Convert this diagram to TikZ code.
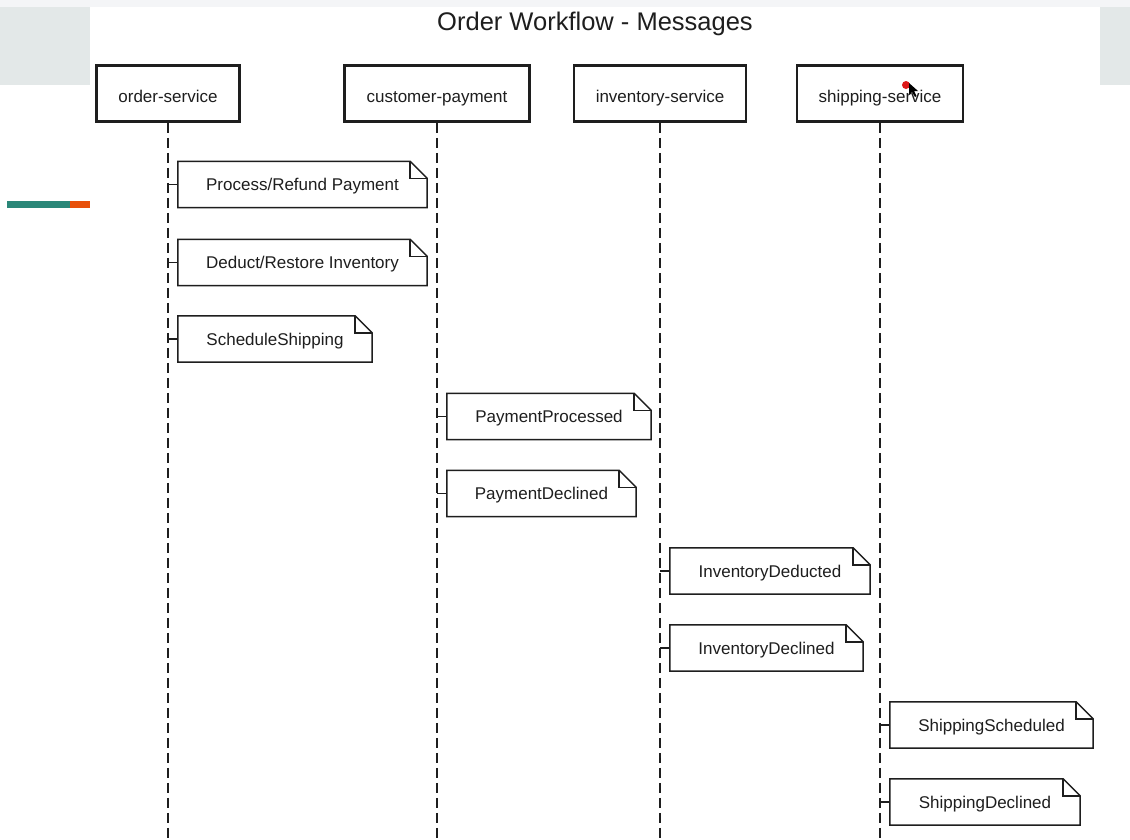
\documentclass[tikz,border=0pt]{standalone}
\usepackage{fontspec}
\setmainfont{Liberation Sans}
\definecolor{topstrip}{RGB}{244,245,247}
\definecolor{sidegray}{RGB}{227,232,232}
\definecolor{barteal}{RGB}{42,135,120}
\definecolor{barorange}{RGB}{232,80,10}
\definecolor{ink}{RGB}{30,30,30}
\begin{document}
\begin{tikzpicture}[x=1pt,y=-1pt,
  part/.style={draw=ink, line width=2.6pt, fill=white, minimum height=56pt, inner sep=0pt, font=\fontsize{17}{19}\selectfont, text=ink, text height=17pt, text depth=0pt},
  notebox/.style={minimum height=46pt, inner sep=0pt, font=\fontsize{17}{19}\selectfont, text=ink, text height=12pt, text depth=0pt},
  noteline/.style={draw=ink, line width=1.5pt, line join=miter},
  life/.style={draw=ink, line width=1.6pt, dash pattern=on 10pt off 5pt},
  tick/.style={draw=ink, line width=1.5pt}]
\useasboundingbox (0,0) rectangle (1130,839);
\fill[white] (0,0) rectangle (1130,839);
\fill[topstrip] (0,0) rectangle (1130,7);
\fill[sidegray] (0,7) rectangle (90,85);
\fill[sidegray] (1100,7) rectangle (1130,85);
\fill[barteal] (7,201) rectangle (70,208);
\fill[barorange] (70,201) rectangle (90,208);

\node[font=\fontsize{25.5}{28}\selectfont, text=ink] (title) at (595,24) {Order Workflow - Messages};

\node[part, minimum width=143pt] (p1) at (168,93.5) {order-service};
\node[part, minimum width=185pt] (p2) at (437,93.5) {customer-payment};
\node[part, minimum width=172pt] (p3) at (660,93.5) {inventory-service};
\node[part, minimum width=166pt] (p4) at (880,93.5) {shipping-service};

\coordinate (e1) at (168,839);
\coordinate (e2) at (437,839);
\coordinate (e3) at (660,839);
\coordinate (e4) at (880,839);
\draw[life] (p1.south) -- (e1);
\draw[life] (p2.south) -- (e2);
\draw[life] (p3.south) -- (e3);
\draw[life] (p4.south) -- (e4);

\foreach \n/\cx/\cy/\w/\t/\p in {
  n1/302.5/184.5/249/{Process/Refund Payment}/p1,
  n2/302.5/262.5/249/{Deduct/Restore Inventory}/p1,
  n3/275/339/194/{ScheduleShipping}/p1,
  n4/549/416.5/204/{PaymentProcessed}/p2,
  n5/541.5/493.5/189/{PaymentDeclined}/p2,
  n6/770/571/200/{InventoryDeducted}/p3,
  n7/766.5/648/193/{InventoryDeclined}/p3,
  n8/991.5/725/203/{ShippingScheduled}/p4,
  n9/985/802/190/{ShippingDeclined}/p4}{
  \node[notebox, minimum width=\w pt] (\n) at (\cx,\cy) {\t};
  \draw[noteline] (\n.north west) -- ([xshift=-17pt]\n.north east) -- ([yshift=-17pt]\n.north east) -- (\n.south east) -- (\n.south west) -- cycle;
  \draw[noteline] ([xshift=-17pt]\n.north east) -- ([xshift=-17pt,yshift=-17pt]\n.north east) -- ([yshift=-17pt]\n.north east);
  \draw[tick] (\p.south |- \n.west) -- (\n.west);
}

\fill[red!85!black!90] (906,85) circle (4pt);
\fill[black] (909,83) -- (909,95) -- (912,92) -- (915,97) -- (916.5,96) -- (914,91) -- (918,91) -- cycle;
\end{tikzpicture}
\end{document}
